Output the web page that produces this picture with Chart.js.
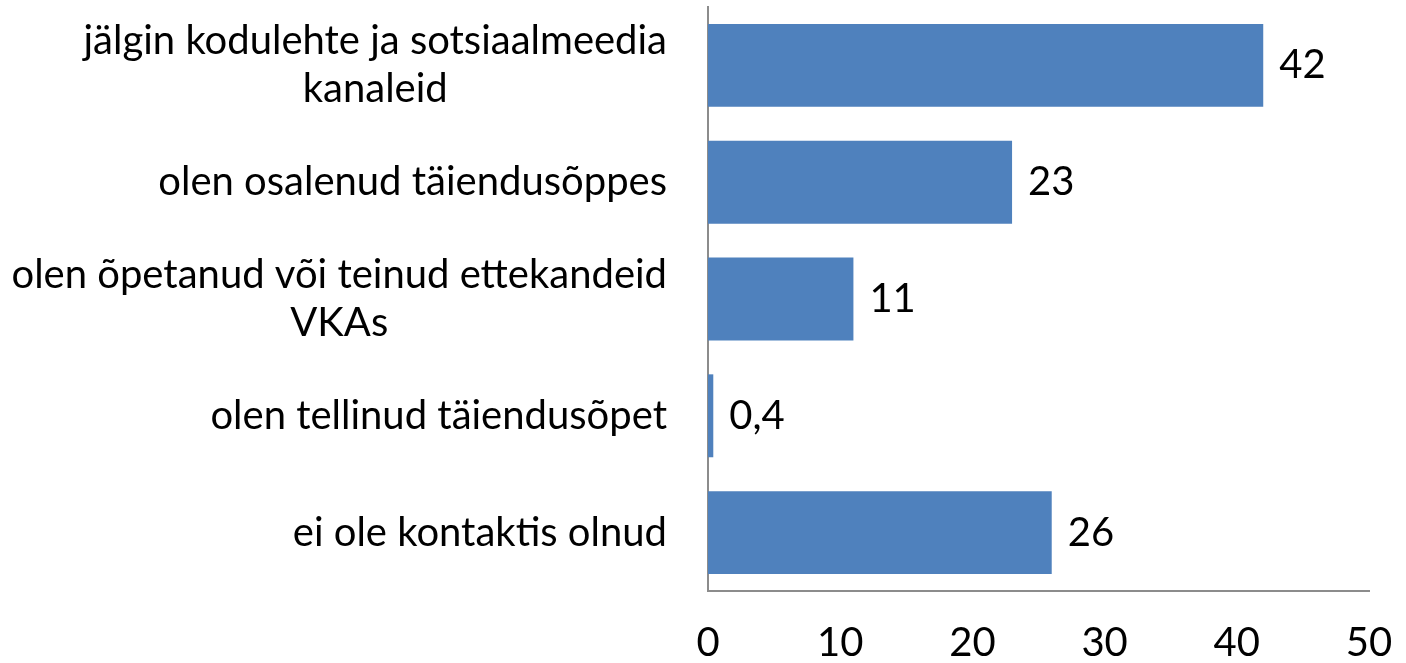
<!DOCTYPE html>
<html>
<head>
<meta charset="utf-8">
<script src="https://cdn.jsdelivr.net/npm/chart.js@4.4.1/dist/chart.umd.min.js"></script>
<style>
  body { margin: 0; background: #fff; }
  #wrap { width: 1406px; height: 663px; }
</style>
</head>
<body>
<div id="wrap"><canvas id="myChart"></canvas></div>
<script>
const categories = [
  ["jälgin kodulehte ja sotsiaalmeedia", "kanaleid"],
  ["olen osalenud täiendusõppes"],
  ["olen õpetanud või teinud ettekandeid", "VKAs"],
  ["olen tellinud täiendusõpet"],
  ["ei ole kontaktis olnud"]
];
const values = [42, 23, 11, 0.4, 26];
const xTicks = [0, 10, 20, 30, 40, 50];

const FONT = "Lato, 'Open Sans', sans-serif";
const FONT_SIZE = 40;

// category labels: lines centred on each other, block right-aligned to the axis
const catLabels = {
  id: "catLabels",
  afterDraw(chart) {
    const { ctx, scales: { y } } = chart;
    ctx.save();
    ctx.font = FONT_SIZE + "px " + FONT;
    ctx.fillStyle = "#000";
    ctx.textBaseline = "middle";
    ctx.textAlign = "center";
    const right = y.right - 41;
    const lh = 48;
    categories.forEach((lines, i) => {
      const w = Math.max(...lines.map(l => ctx.measureText(l).width));
      const cx = right - w / 2;
      const cy = y.getPixelForValue(i);
      const y0 = cy - (lines.length - 1) * lh / 2;
      lines.forEach((l, j) => ctx.fillText(l, cx, y0 + j * lh));
    });
    ctx.restore();
  },
};

// value labels to the right of each bar
const valueLabels = {
  id: "valueLabels",
  afterDatasetsDraw(chart) {
    const { ctx } = chart;
    const meta = chart.getDatasetMeta(0);
    ctx.save();
    ctx.font = FONT_SIZE + "px " + FONT;
    ctx.fillStyle = "#000";
    ctx.textBaseline = "middle";
    ctx.textAlign = "left";
    meta.data.forEach((bar, i) => {
      ctx.fillText(String(values[i]).replace(".", ","), bar.x + 16, bar.y);
    });
    ctx.restore();
  },
};

new Chart(document.getElementById("myChart"), {
  type: "bar",
  data: {
    labels: categories.map(c => c.join(" ")),
    datasets: [
      {
        data: values,
        backgroundColor: "#4F81BD",
        borderWidth: 0,
        categoryPercentage: 1,
        barPercentage: 0.71,
      },
    ],
  },
  options: {
    indexAxis: "y",
    responsive: true,
    maintainAspectRatio: false,
    animation: false,
    layout: { padding: { left: 708, top: 7, right: 37, bottom: 0 } },
    plugins: { legend: { display: false }, tooltip: { enabled: false } },
    scales: {
      x: {
        min: 0,
        max: 50,
        afterBuildTicks(axis) { axis.ticks = xTicks.map(v => ({ value: v })); },
        afterFit(axis) {
          axis.height = 72;
          axis.paddingLeft = 0;
          axis.paddingRight = 0;
        },
        grid: { display: false, drawTicks: false },
        border: { display: true, color: "#8C8C8C", width: 2 },
        ticks: { color: "#000", padding: 32, font: { family: FONT, size: FONT_SIZE, lineHeight: 1 } },
      },
      y: {
        afterFit(axis) {
          axis.paddingTop = 0;
          axis.paddingBottom = 0;
        },
        grid: { display: false, drawTicks: false },
        border: { display: true, color: "#8C8C8C", width: 2 },
        ticks: { display: false },
      },
    },
  },
  plugins: [catLabels, valueLabels],
});
</script>
</body>
</html>
